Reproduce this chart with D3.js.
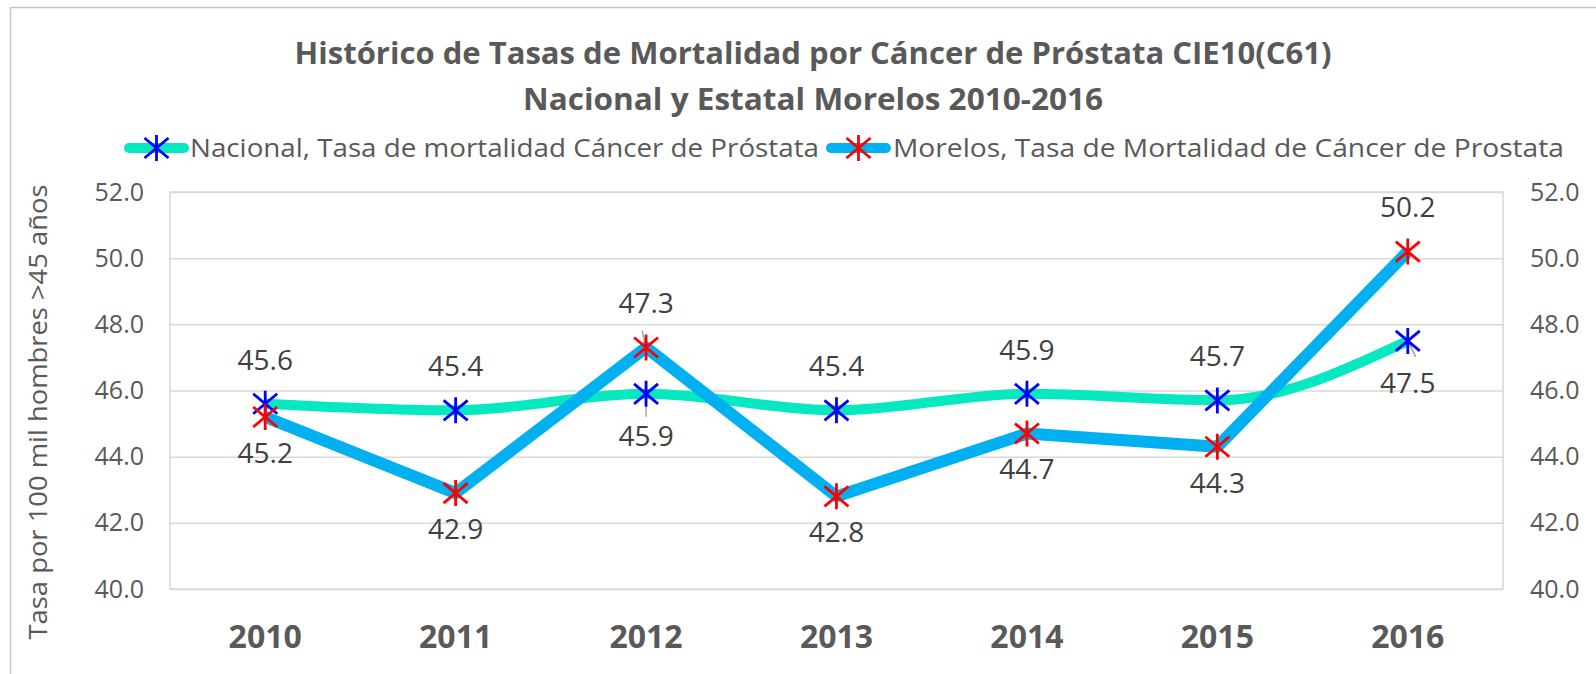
<!DOCTYPE html>
<html>
<head>
<meta charset="utf-8">
<script src="https://cdn.jsdelivr.net/npm/d3@7"></script>
<style>
  body { margin: 0; background: #fff; }
  svg { display: block; font-family: 'Open Sans', sans-serif; }
</style>
</head>
<body>
<div id="chart"></div>
<script>
var years = ['2010', '2011', '2012', '2013', '2014', '2015', '2016'];
var nacional = [45.6, 45.4, 45.9, 45.4, 45.9, 45.7, 47.5];
var morelos = [45.2, 42.9, 47.3, 42.8, 44.7, 44.3, 50.2];
var yTicks = [40, 42, 44, 46, 48, 50, 52];
// where each value label sits relative to its point
var nacionalLabelPos = ['above', 'above', 'below', 'above', 'above', 'above', 'below'];
var morelosLabelPos = ['below', 'below', 'above', 'below', 'below', 'below', 'above'];

var titleLines = ['Histórico de Tasas de Mortalidad por Cáncer de Próstata CIE10(C61)',
                  'Nacional y Estatal Morelos 2010-2016'];
var legendNames = ['Nacional, Tasa de mortalidad Cáncer de Próstata',
                   'Morelos, Tasa de Mortalidad de Cáncer de Prostata'];
var yTitle = 'Tasa por 100 mil hombres >45 años';

var width = 1596, height = 674;
var plot = { left: 170, right: 1503, top: 192, bottom: 589 };

var svg = d3.select('#chart').append('svg')
    .attr('width', width)
    .attr('height', height);

// chart border (runs off right and bottom edges)
svg.append('rect')
    .attr('x', 10.5).attr('y', 7.5)
    .attr('width', width + 20).attr('height', height + 20)
    .attr('fill', 'none')
    .attr('stroke', '#c6c6c6')
    .attr('stroke-width', 1.5);

var x = d3.scaleBand().domain(years).range([plot.left, plot.right]);
var y = d3.scaleLinear().domain([40, 52]).range([plot.bottom, plot.top]);
var cx = function(d) { return x(d) + x.bandwidth() / 2; };

// gridlines
svg.append('g')
    .attr('class', 'grid')
    .attr('transform', 'translate(' + plot.left + ',0)')
    .call(d3.axisRight(y).tickValues(yTicks).tickSize(plot.right - plot.left).tickFormat(''))
    .call(function(g) { g.select('.domain').remove(); })
    .selectAll('line')
    .attr('stroke', '#d9d9d9')
    .attr('stroke-width', 1.5);

svg.append('rect')
    .attr('x', plot.left).attr('y', plot.top)
    .attr('width', plot.right - plot.left).attr('height', plot.bottom - plot.top)
    .attr('fill', 'none')
    .attr('stroke', '#d9d9d9')
    .attr('stroke-width', 1.5);

// y axes, left and right
var fmt = d3.format('.1f');
function styleAxis(g) {
  g.select('.domain').remove();
  g.selectAll('line').remove();
  g.selectAll('text')
    .attr('fill', '#595959')
    .style('font-size', '25px')
    .style('font-family', "'Open Sans', sans-serif");
}
svg.append('g')
    .attr('transform', 'translate(' + plot.left + ',0)')
    .call(d3.axisLeft(y).tickValues(yTicks).tickFormat(fmt).tickSize(0).tickPadding(26))
    .call(styleAxis);
svg.append('g')
    .attr('transform', 'translate(' + plot.right + ',0)')
    .call(d3.axisRight(y).tickValues(yTicks).tickFormat(fmt).tickSize(0).tickPadding(27))
    .call(styleAxis);

// x axis
svg.append('g')
    .attr('transform', 'translate(0,' + plot.bottom + ')')
    .call(d3.axisBottom(x).tickSize(0).tickPadding(36))
    .call(function(g) {
      g.select('.domain').remove();
      g.selectAll('text')
        .attr('fill', '#595959')
        .style('font-size', '32px')
        .style('font-weight', 'bold')
        .style('font-family', "'Open Sans', sans-serif");
    });

// y title
svg.append('text')
    .attr('transform', 'translate(47,412) rotate(-90)')
    .attr('text-anchor', 'middle')
    .attr('fill', '#595959')
    .style('font-size', '25px')
    .attr('textLength', 455)
    .attr('lengthAdjust', 'spacingAndGlyphs')
    .text(yTitle);

// title
svg.selectAll('.title')
    .data(titleLines)
    .enter().append('text')
    .attr('class', 'title')
    .attr('x', 813)
    .attr('y', function(d, i) { return 64 + i * 46; })
    .attr('text-anchor', 'middle')
    .attr('fill', '#595959')
    .style('font-size', '31px')
    .style('font-weight', 'bold')
    .attr('textLength', function(d, i) { return i === 0 ? 1037 : 580; })
    .attr('lengthAdjust', 'spacingAndGlyphs')
    .text(function(d) { return d; });

// asterisk marker
function star(sel, color) {
  sel.append('path')
      .attr('d', 'M-12,-10L12,10M-12,10L12,-10M0,-13L0,13')
      .attr('stroke', color)
      .attr('stroke-width', 2.8)
      .attr('fill', 'none');
}

// lines
var nacLine = d3.line()
    .x(function(d, i) { return cx(years[i]); })
    .y(function(d) { return y(d); })
    .curve(d3.curveMonotoneX);
var morLine = d3.line()
    .x(function(d, i) { return cx(years[i]); })
    .y(function(d) { return y(d); });

svg.append('path')
    .datum(nacional)
    .attr('d', nacLine)
    .attr('fill', 'none')
    .attr('stroke', '#05E8C0')
    .attr('stroke-width', 10)
    .attr('stroke-linejoin', 'round');

svg.append('path')
    .datum(morelos)
    .attr('d', morLine)
    .attr('fill', 'none')
    .attr('stroke', '#00B0F0')
    .attr('stroke-width', 12)
    .attr('stroke-linejoin', 'round');

// leader lines for the labels pulled away from their points
var leaders = [
  { yr: '2012', v: morelos[2], dx: -4, dy: -17 },
  { yr: '2012', v: nacional[2], dx: 0, dy: 23 },
  { yr: '2016', v: nacional[6], dx: 8, dy: 16 }
];
svg.selectAll('.leader')
    .data(leaders)
    .enter().append('line')
    .attr('x1', function(d) { return cx(d.yr); })
    .attr('y1', function(d) { return y(d.v); })
    .attr('x2', function(d) { return cx(d.yr) + d.dx; })
    .attr('y2', function(d) { return y(d.v) + d.dy; })
    .attr('stroke', '#a6a6a6')
    .attr('stroke-width', 1.5);

svg.selectAll('.nac-mark')
    .data(nacional)
    .enter().append('g')
    .attr('transform', function(d, i) { return 'translate(' + cx(years[i]) + ',' + y(d) + ')'; })
    .each(function() { star(d3.select(this), '#0000FF'); });

svg.selectAll('.mor-mark')
    .data(morelos)
    .enter().append('g')
    .attr('transform', function(d, i) { return 'translate(' + cx(years[i]) + ',' + y(d) + ')'; })
    .each(function() { star(d3.select(this), '#FF0000'); });

// value labels
function addLabels(values, pos, below) {
  svg.append('g').selectAll('text')
      .data(values)
      .enter().append('text')
      .attr('x', function(d, i) { return cx(years[i]); })
      .attr('y', function(d, i) { return y(d) + (pos[i] === 'above' ? -44 : below); })
      .attr('dy', '0.35em')
      .attr('text-anchor', 'middle')
      .attr('fill', '#404040')
      .style('font-size', '28px')
      .text(function(d) { return fmt(d); });
}
addLabels(nacional, nacionalLabelPos, 42);
addLabels(morelos, morelosLabelPos, 36);

// legend
var legend = [
  { name: legendNames[0], line: '#05E8C0', mark: '#0000FF', x0: 124, x1: 189, tx: 190, tw: 629 },
  { name: legendNames[1], line: '#00B0F0', mark: '#FF0000', x0: 826, x1: 891, tx: 893, tw: 671 }
];
var lg = svg.selectAll('.legend')
    .data(legend)
    .enter().append('g');
lg.append('line')
    .attr('x1', function(d) { return d.x0 + 5; })
    .attr('x2', function(d) { return d.x1 - 5; })
    .attr('y1', 148).attr('y2', 148)
    .attr('stroke', function(d) { return d.line; })
    .attr('stroke-width', 10)
    .attr('stroke-linecap', 'round');
lg.append('g')
    .attr('transform', function(d) { return 'translate(' + (d.x0 + d.x1) / 2 + ',148)'; })
    .each(function(d) { star(d3.select(this), d.mark); });
lg.append('text')
    .attr('x', function(d) { return d.tx; })
    .attr('y', 148)
    .attr('dy', '0.35em')
    .attr('fill', '#595959')
    .style('font-size', '26px')
    .attr('textLength', function(d) { return d.tw; })
    .attr('lengthAdjust', 'spacingAndGlyphs')
    .text(function(d) { return d.name; });
</script>
</body>
</html>
